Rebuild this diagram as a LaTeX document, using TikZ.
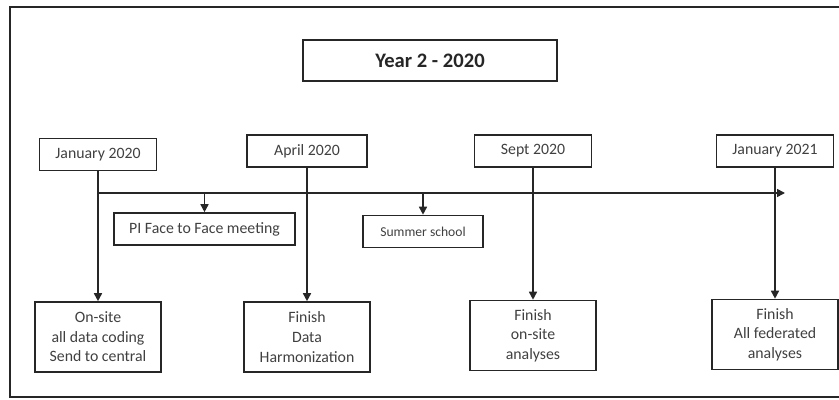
\documentclass[tikz,border=0pt]{standalone}
\usepackage{fontspec}
\setmainfont{Carlito}
\usepackage{tikz}
\usetikzlibrary{arrows.meta,positioning}
\tikzset{
  datebox/.style={draw=black!85, line width=0.8pt, minimum width=58.5pt, minimum height=16pt,
    inner sep=0pt, text=black!75, font=\fontsize{7.9}{9.6}\selectfont},
  goalbox/.style={draw=black!85, line width=0.8pt, minimum width=63pt, minimum height=35pt,
    inner sep=0pt, align=center, text=black!75, font=\fontsize{7.9}{9.8}\selectfont},
  eventbox/.style={draw=black!85, line width=0.8pt, minimum height=16pt,
    inner sep=0pt, text=black!75, font=\fontsize{7.9}{9.6}\selectfont},
  >={Triangle[length=4pt,width=4pt]}
}

\begin{document}
\begin{tikzpicture}[x=0.5pt,y=-0.5pt]
                   \useasboundingbox (0,0) rectangle (839,400);
                   \clip (0,0) rectangle (839,400);
                   \draw[line width=0.9pt, black!85] (10,7) rectangle (845,397);
                   \node[draw=black!85, line width=0.9pt, minimum width=127pt, minimum height=20.5pt,
                         font=\fontsize{10.3}{12}\bfseries, text=black!85] (year) at (430,60.5) {Year 2 - 2020};
                   \node[datebox] (jan20) at (98,154.5)  {January 2020};
                   \node[datebox, minimum width=60pt] (apr20) at (307,151) {April 2020};
                   \node[datebox] (sep20) at (533,151)   {Sept 2020};
                   \node[datebox] (jan21) at (775,151)   {January 2021};
                   \node[eventbox, minimum width=90.5pt] (pi) at (204.5,229) {PI Face to Face meeting};
                   \node[eventbox, minimum width=60pt, font=\fontsize{6.8}{8}\selectfont] (summer) at (423,231.5) {Summer school};
                   \node[goalbox] (onsite) at (98,337)   {On-site\\all data coding\\Send to central};
                   \node[goalbox] (harm) at (307,337)    {Finish\\Data\\Harmonization};
                   \node[goalbox] (onana) at (533,335.5) {Finish\\on-site\\analyses};
                   \node[goalbox] (fed) at (775,334.5)   {Finish\\All federated\\analyses};
                   \coordinate (tstart) at (98,193);
                   \coordinate (tend) at (785,193);
                    \draw[->, line width=0.8pt, black!85] (tstart) -- (tend);
                    \path[->, line width=0.8pt, black!85]
                    (jan20) edge (onsite)
                    (apr20) edge (harm)
                    (sep20) edge (onana)
                    (jan21) edge (fed)
                    (tstart -| pi.north) edge (pi)
                    (tstart -| summer.north) edge (summer);
                \end{tikzpicture}
\end{document}
